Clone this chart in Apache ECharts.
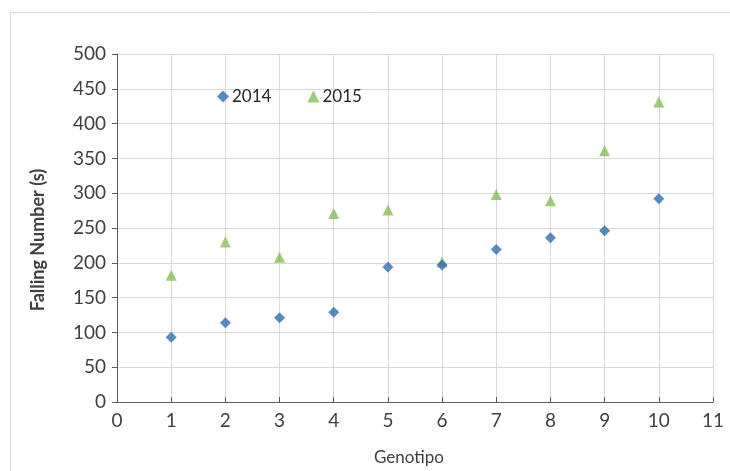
<!DOCTYPE html>
<html>
<head>
<meta charset="utf-8">
<script src="https://cdn.jsdelivr.net/npm/echarts@6/dist/echarts.min.js"></script>
<style>html,body{margin:0;padding:0;background:#fff}#c{width:730px;height:471px}</style>
</head>
<body>
<div id="c"></div>
<script>
var genotipo = [1, 2, 3, 4, 5, 6, 7, 8, 9, 10];
var values2014 = [93, 114, 121, 129, 194, 197, 219, 236, 246, 292];
var values2015 = [182, 230, 208, 271, 276, 201, 298, 289, 361, 431];
var xTicks = [0, 1, 2, 3, 4, 5, 6, 7, 8, 9, 10, 11];
var yTicks = [0, 50, 100, 150, 200, 250, 300, 350, 400, 450, 500];

function pairs(xs, ys) { return xs.map(function (x, i) { return [x, ys[i]]; }); }

var FONT = 'Lato, "Open Sans", sans-serif';
var chart = echarts.init(document.getElementById('c'), null, {renderer: 'canvas'});
chart.setOption({
  animation: false,
  backgroundColor: '#fff',
  graphic: [{
    type: 'polyline', z: -1,
    shape: {points: [[10.5, 471], [10.5, 12.5], [730, 12.5]]},
    style: {stroke: '#d9d9d9', lineWidth: 1, fill: null}
  }],
  grid: {left: 117, right: 17, top: 54, bottom: 67, containLabel: false},
  legend: {
    left: 212, top: 83, itemGap: 36, itemWidth: 12, itemHeight: 12,
    data: [{name: '2014', icon: 'diamond'}, {name: '2015', icon: 'triangle'}],
    textStyle: {fontFamily: FONT, fontSize: 17, color: '#262626', padding: [0, 0, 0, -2]}
  },
  xAxis: {
    type: 'value', min: xTicks[0], max: xTicks[xTicks.length - 1], interval: 1,
    name: 'Genotipo', nameLocation: 'middle', nameGap: 47,
    nameTextStyle: {fontFamily: FONT, fontSize: 17, color: '#404040', padding: [0, 12, 0, 0]},
    axisLine: {show: true, lineStyle: {color: '#595959', width: 1}},
    axisTick: {show: true, inside: true, length: 5, lineStyle: {color: '#595959'}},
    axisLabel: {fontFamily: FONT, fontSize: 19, color: '#404040', margin: 9},
    splitLine: {show: true, lineStyle: {color: '#d9d9d9', width: 1}}
  },
  yAxis: {
    type: 'value', min: yTicks[0], max: yTicks[yTicks.length - 1], interval: 50,
    name: 'Falling Number (s)', nameLocation: 'middle', nameGap: 70, nameRotate: 90,
    nameTextStyle: {fontFamily: FONT, fontSize: 18, fontWeight: 'bold', color: '#404040',
                    padding: [0, 24, 0, 0]},
    axisLine: {show: true, lineStyle: {color: '#595959', width: 1}},
    axisTick: {show: true, inside: false, length: 5, lineStyle: {color: '#595959'}},
    axisLabel: {fontFamily: FONT, fontSize: 19, color: '#404040', margin: 11},
    splitLine: {show: true, lineStyle: {color: '#d9d9d9', width: 1}}
  },
  series: [
    {name: '2014', type: 'scatter', symbol: 'diamond', symbolSize: 11,
     itemStyle: {color: '#2E6DB5'}, data: pairs(genotipo, values2014), z: 3},
    {name: '2015', type: 'scatter', symbol: 'triangle', symbolSize: 11,
     itemStyle: {color: '#86BE55'}, data: pairs(genotipo, values2015), z: 2}
  ]
});
</script>
</body>
</html>
